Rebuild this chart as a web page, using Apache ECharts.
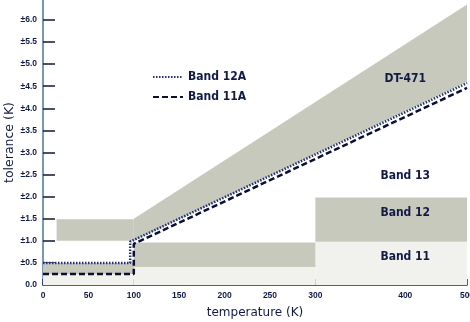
<!DOCTYPE html>
<html>
<head>
<meta charset="utf-8">
<script src="https://cdn.jsdelivr.net/npm/echarts@6/dist/echarts.min.js"></script>
<style>
  html, body { margin: 0; padding: 0; background: #fff; }
  #chart { width: 470px; height: 322px; }
</style>
</head>
<body>
<div id="chart"></div>
<script>
// Temperature axis: 0-400 K spaced evenly, 400-500 K compressed.
const axisKnotsK = [0, 300, 400, 500];
const axisKnotsU = [0, 300, 399, 467];
const xTicksK = [0, 50, 100, 150, 200, 250, 300, 400, 500];
const yTicks = [0, 0.5, 1, 1.5, 2, 2.5, 3, 3.5, 4, 4.5, 5, 5.5, 6];

// Light base tolerance blocks: [tStart, tEnd, low, high]
const baseBlocks = [
  [0, 100, 0, 0.25],
  [100, 300, 0, 0.41],
  [300, 500, 0, 0.98]
];
// Grey tolerance blocks: [tStart, tEnd, low, high]
const greyBlocks = [
  [0, 100, 0.25, 0.5],
  [15, 100, 1.0, 1.49],
  [100, 300, 0.41, 0.96],
  [300, 500, 0.98, 1.98]
];
// DT-471 tolerance band
const dtTemp = [100, 500];
const dtLower = [1.0, 4.6];
const dtUpper = [1.5, 6.35];

// Band 12A and Band 11A curves
const band12aTemp = [0, 96, 96, 500];
const band12aTol = [0.5, 0.5, 0.98, 4.57];
const band11aTemp = [0, 100, 100, 500];
const band11aTol = [0.25, 0.25, 0.93, 4.46];

// Region labels
const regionNames = ['DT-471', 'Band 13', 'Band 12', 'Band 11'];
const regionTemp = [400, 400, 400, 400];
const regionTol = [4.66, 2.47, 1.63, 0.63];

function warp(t) {
  for (let i = 1; i < axisKnotsK.length; i++) {
    if (t <= axisKnotsK[i]) {
      const f = (t - axisKnotsK[i - 1]) / (axisKnotsK[i] - axisKnotsK[i - 1]);
      return axisKnotsU[i - 1] + f * (axisKnotsU[i] - axisKnotsU[i - 1]);
    }
  }
  return axisKnotsU[axisKnotsU.length - 1];
}
function unwarp(u) {
  for (let i = 1; i < axisKnotsU.length; i++) {
    if (u <= axisKnotsU[i] + 1e-9) {
      const f = (u - axisKnotsU[i - 1]) / (axisKnotsU[i] - axisKnotsU[i - 1]);
      return axisKnotsK[i - 1] + f * (axisKnotsK[i] - axisKnotsK[i - 1]);
    }
  }
  return axisKnotsK[axisKnotsK.length - 1];
}

const ink = '#111a44';
const grey = '#c8c9bd';
const light = '#f1f1ee';
const tickFont = { fontFamily: "'Liberation Sans Narrow', 'Liberation Sans', sans-serif", fontWeight: 'bold', fontSize: 8.5, color: ink };
const labelFont = { fontFamily: "'DejaVu Sans Condensed', 'DejaVu Sans', sans-serif", fontWeight: 'bold', fontSize: 12, color: ink };

function rectSeries(blocks, color) {
  return {
    type: 'custom',
    silent: true,
    data: blocks.map(b => [warp(b[0]), warp(b[1]), b[2], b[3]]),
    encode: { x: [0, 1], y: [2, 3] },
    renderItem: function (params, api) {
      const p0 = api.coord([api.value(0), api.value(3)]);
      const p1 = api.coord([api.value(1), api.value(2)]);
      return {
        type: 'rect',
        shape: { x: p0[0], y: p0[1], width: p1[0] - p0[0], height: p1[1] - p0[1] },
        style: { fill: color }
      };
    }
  };
}

const dtData = dtTemp.map((t, i) => [warp(t), dtLower[i], dtUpper[i]]);

const option = {
  animation: false,
  backgroundColor: '#fff',
  grid: { left: 43, right: 3, top: 0, bottom: 37, outerBoundsMode: 'none', containLabel: false },
  legend: {
    orient: 'vertical',
    left: 147,
    top: 66,
    itemWidth: 30,
    itemHeight: 14,
    itemGap: 8,
    itemStyle: { opacity: 0 },
    textStyle: labelFont,
    data: ['Band 12A', 'Band 11A']
  },
  xAxis: {
    type: 'value',
    min: 0,
    max: axisKnotsU[axisKnotsU.length - 1],
    splitLine: { show: false },
    axisLine: { show: true, lineStyle: { color: '#1c2a5c', width: 1.5 } },
    axisTick: {
      show: true, inside: true, length: 6,
      customValues: xTicksK.map(warp),
      lineStyle: { color: '#1c2a5c', width: 1.5 }
    },
    axisLabel: {
      customValues: xTicksK.map(warp),
      margin: 6,
      ...tickFont,
      formatter: v => String(Math.round(unwarp(v)))
    },
    name: 'temperature (K)',
    nameLocation: 'middle',
    nameGap: 22,
    nameMoveOverlap: false,
    nameTextStyle: { fontFamily: "'DejaVu Sans', sans-serif", fontSize: 12, color: ink }
  },
  yAxis: {
    type: 'value',
    min: 0,
    max: 6.45,
    splitLine: { show: false },
    axisLine: { show: true, lineStyle: { color: '#4a7698', width: 1.5 } },
    axisTick: {
      show: true, inside: true, length: 12,
      customValues: yTicks.slice(1),
      lineStyle: { color: '#111a30', width: 1.5 }
    },
    axisLabel: {
      customValues: yTicks,
      margin: 6,
      ...tickFont,
      formatter: v => (v === 0 ? '0.0' : '\u00b1' + v.toFixed(1))
    },
    name: 'tolerance (K)',
    nameLocation: 'middle',
    nameGap: 27,
    nameMoveOverlap: false,
    nameTextStyle: { fontFamily: "'DejaVu Sans', sans-serif", fontSize: 12.5, color: ink }
  },
  series: [
    rectSeries(baseBlocks, light),
    rectSeries(greyBlocks, grey),
    {
      type: 'custom',
      silent: true,
      data: dtData,
      encode: { x: 0, y: [1, 2] },
      renderItem: function (params, api) {
        if (params.dataIndex !== 0) return null;
        const lower = dtData.map(d => api.coord([d[0], d[1]]));
        const upper = dtData.map(d => api.coord([d[0], d[2]])).reverse();
        return { type: 'polygon', shape: { points: lower.concat(upper) }, style: { fill: grey } };
      }
    },
    {
      name: 'Band 11A',
      type: 'line',
      symbol: 'none',
      silent: true,
      data: band11aTemp.map((t, i) => [warp(t), band11aTol[i]]),
      lineStyle: { color: '#0b1030', width: 2.5, type: [6, 3] },
      itemStyle: { color: '#0b1030' }
    },
    {
      name: 'Band 12A',
      type: 'line',
      symbol: 'none',
      silent: true,
      data: band12aTemp.map((t, i) => [warp(t), band12aTol[i]]),
      lineStyle: { color: '#1f2f78', width: 2.5, type: [1.5, 1.5] },
      itemStyle: { color: '#1f2f78' }
    },
    {
      type: 'scatter',
      silent: true,
      symbolSize: 0,
      itemStyle: { opacity: 1 },
      data: regionNames.map((n, i) => ({ value: [warp(regionTemp[i]), regionTol[i]], name: n })),
      label: {
        show: true,
        position: 'inside',
        formatter: p => p.name,
        ...labelFont
      }
    }
  ]
};

const chart = echarts.init(document.getElementById('chart'), null, { renderer: 'canvas' });
chart.setOption(option);
</script>
</body>
</html>
